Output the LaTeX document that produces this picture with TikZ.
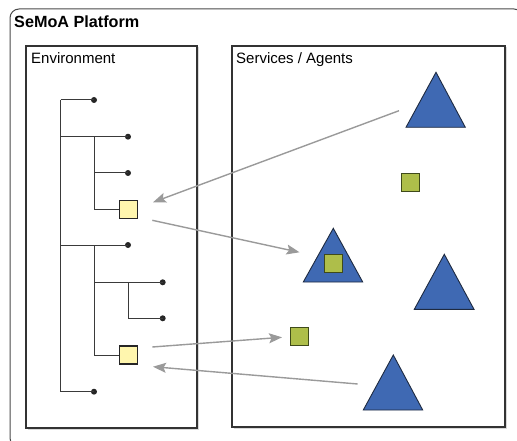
\documentclass[tikz,border=0pt]{standalone}
\usepackage{fontspec}
\setmainfont{Liberation Sans}
\usetikzlibrary{arrows.meta}
\definecolor{boxline}{HTML}{333333}
\definecolor{outerline}{HTML}{4A4A4A}
\definecolor{treeline}{HTML}{3A3A3A}
\definecolor{arrowgray}{HTML}{9A9A9A}
\definecolor{yellowfill}{HTML}{FFF6AE}
\definecolor{greenfill}{HTML}{AEBE4A}
\definecolor{greenline}{HTML}{3F4A1A}
\definecolor{bluefill}{HTML}{3F69B3}
\definecolor{blueline}{HTML}{1E2A40}
\begin{document}
\begin{tikzpicture}[x=1pt,y=-1pt,
  frame/.style={draw=boxline, line width=1.1pt},
  shade/.style={draw=black!15, line width=1.2pt},
  tree/.style={draw=treeline, line width=1pt},
  leaf/.style={circle, fill=black!85, inner sep=0pt, minimum size=6pt},
  envsq/.style={draw=black!85, line width=1.4pt, fill=yellowfill, inner sep=0pt, minimum size=18pt},
  agsq/.style={draw=greenline, line width=1pt, fill=greenfill, inner sep=0pt, minimum size=18pt},
  agent/.style={draw=blueline, line width=0.9pt, fill=bluefill},
  link/.style={draw=arrowgray, line width=1.4pt, -{Stealth[length=13pt,width=10pt,inset=2.5pt]}},
  title/.style={anchor=base west, inner sep=0pt, font=\fontsize{15}{17}\selectfont}
]
\useasboundingbox (0,0) rectangle (517,441);
\begin{scope}
\clip (0,0) rectangle (517,441);
\draw[draw=outerline, line width=1pt, rounded corners=9pt] (10,9) rectangle (523,447);
\end{scope}
\node[title, font=\fontsize{16.2}{18}\selectfont\bfseries] (platform) at (14,28) {SeMoA Platform};

% Environment box
\draw[shade] (198.5,47.5) -- (198.5,429.5) -- (27.5,429.5);
\draw[frame] (26,46) rectangle (197,428);
\node[title] (envtitle) at (31,64) {Environment};

% Services / Agents box
\draw[shade] (506.5,47.5) -- (506.5,428.5) -- (233.5,428.5);
\draw[frame] (232,46) rectangle (505,427);
\node[title] (svctitle) at (236,63.5) {Services / Agents};

% tree
\coordinate (j0) at (60.7,100);
\coordinate (j1) at (60.7,136.7);
\coordinate (j2) at (60.7,245);
\coordinate (j3) at (60.7,391.7);
\coordinate (k1) at (94.3,136.7);
\coordinate (k2) at (94.3,173);
\coordinate (k3) at (94.3,209.3);
\coordinate (m1) at (94.3,245);
\coordinate (m2) at (94.3,282.3);
\coordinate (m3) at (94.3,355);
\coordinate (n1) at (128.7,282.3);
\coordinate (n2) at (128.7,318.3);

\node[leaf] (d0) at (94,100) {};
\node[leaf] (d1) at (128,136.7) {};
\node[leaf] (d2) at (128,173) {};
\node[envsq] (e1) at (128.5,209.3) {};
\node[leaf] (d3) at (128,245) {};
\node[leaf] (d4) at (162.7,282.3) {};
\node[leaf] (d5) at (162.7,318.3) {};
\node[envsq] (e2) at (128.5,355) {};
\node[leaf] (d6) at (94,391.7) {};

\draw[tree] (j0) -- (j3);
\draw[tree] (j0) -- (d0.center);
\draw[tree] (j1) -- (d1.center);
\draw[tree] (k1) -- (k3);
\draw[tree] (k2) -- (d2.center);
\draw[tree] (k3) -- (e1.west);
\draw[tree] (j2) -- (d3.center);
\draw[tree] (m1) -- (m3);
\draw[tree] (m2) -- (d4.center);
\draw[tree] (n1) -- (n2) -- (d5.center);
\draw[tree] (m3) -- (e2.west);
\draw[tree] (j3) -- (d6.center);

% agents (triangles)
\draw[agent] (436,72.3) -- (465.3,127.3) -- (406,127.3) -- cycle;
\draw[agent] (333.3,228.3) -- (362.7,282) -- (303.3,282) -- cycle;
\draw[agent] (444.3,254.3) -- (474,309.3) -- (414.3,309.3) -- cycle;
\draw[agent] (393.3,355) -- (422.7,410) -- (363.3,410) -- cycle;
\coordinate (t1) at (399,110.7);
\coordinate (t2) at (299.5,252.3);
\coordinate (t4) at (357.7,384);

% service squares
\node[agsq] (s1) at (410.3,182.5) {};
\node[agsq] (s2) at (333.3,263.7) {};
\node[agsq] (s3) at (299.2,336.5) {};

% connectors
\coordinate (e1in) at (153,202.3);
\coordinate (e1out) at (152.3,220.3);
\coordinate (e2out) at (152.3,347);
\coordinate (e2in) at (153,366.7);
\coordinate (s3in) at (282,337.3);
\draw[link] (t1) -- (e1in);
\draw[link] (e1out) -- (t2);
\draw[link] (e2out) -- (s3in);
\draw[link] (t4) -- (e2in);
\end{tikzpicture}
\end{document}
